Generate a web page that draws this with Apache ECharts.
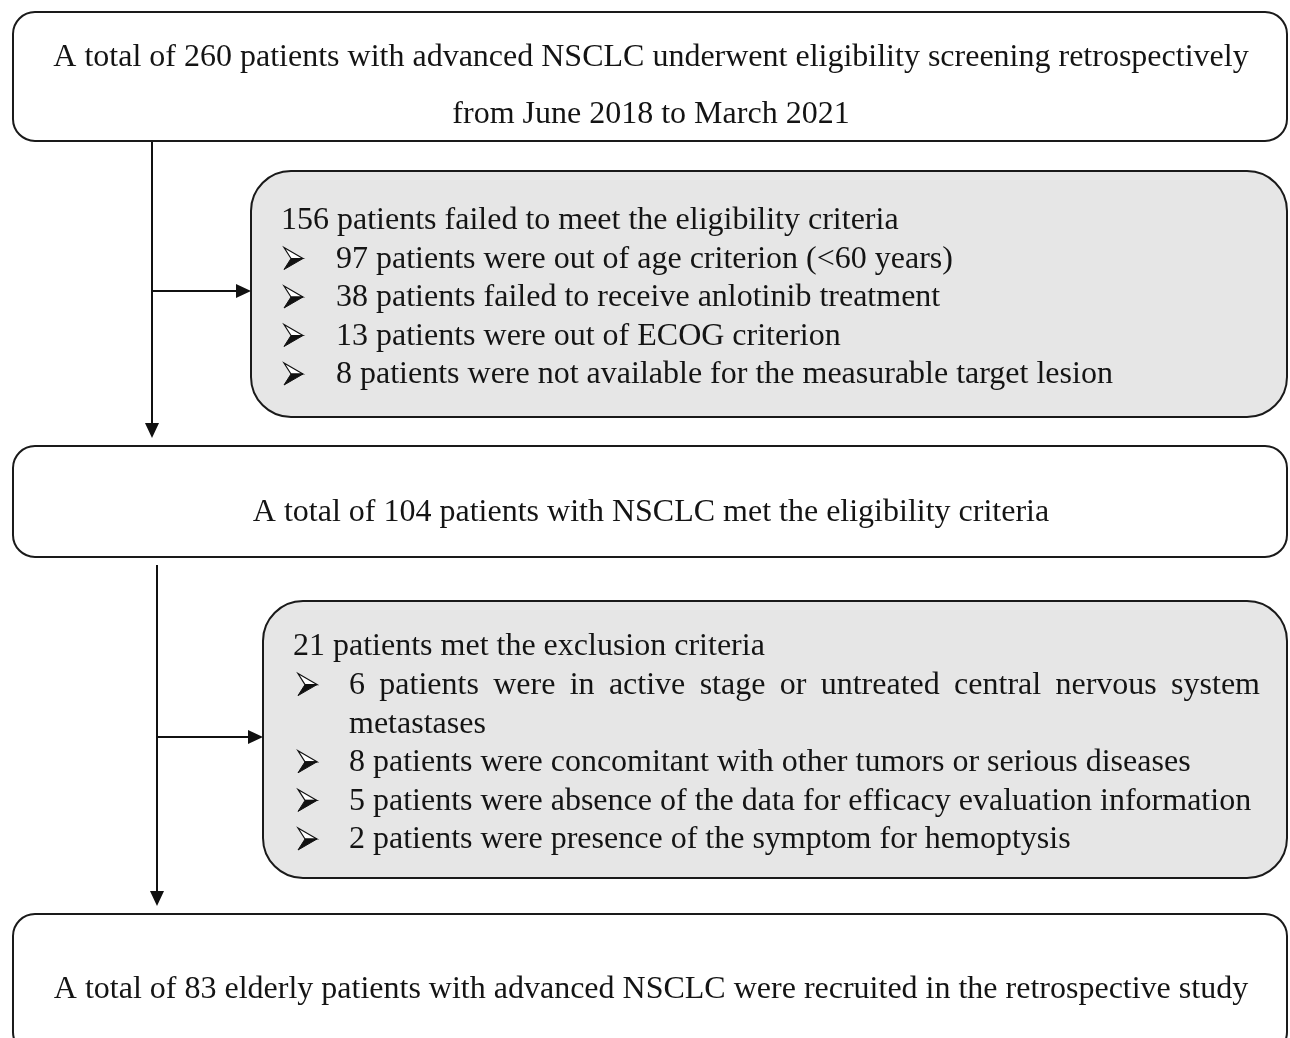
<!DOCTYPE html>
<html>
<head>
<meta charset="utf-8">
<script src="https://cdn.jsdelivr.net/npm/echarts@6/dist/echarts.min.js"></script>
<style>
html,body{margin:0;padding:0;background:#fff;}
#c{width:1290px;height:1038px;}
</style>
</head>
<body>
<div id="c"></div>
<script>
// ---- Data (texts of the flowchart) ----
var screeningLines = [
  "A total of 260 patients with advanced NSCLC underwent eligibility screening retrospectively",
  "from June 2018 to March 2021"
];
var failedHeader = "156 patients failed to meet the eligibility criteria";
var failedItems = [
  "97 patients were out of age criterion (<60 years)",
  "38 patients failed to receive anlotinib treatment",
  "13 patients were out of ECOG criterion",
  "8 patients were not available for the measurable target lesion"
];
var eligibleText = "A total of 104 patients with NSCLC met the eligibility criteria";
var excludedHeader = "21 patients met the exclusion criteria";
var excludedItems = [
  ["6 patients were in active stage or untreated central nervous system", "metastases"],
  ["8 patients were concomitant with other tumors or serious diseases"],
  ["5 patients were absence of the data for efficacy evaluation information"],
  ["2 patients were presence of the symptom for hemoptysis"]
];
var recruitedText = "A total of 83 elderly patients with advanced NSCLC were recruited in the retrospective study";

// ---- Layout ----
var FONT_FAMILY = '"Liberation Serif", "Times New Roman", serif';
var FS = 32;
var FONT = FS + 'px ' + FONT_FAMILY;
var INK = '#141414';
var LW = 2;

var measureCtx = document.createElement('canvas').getContext('2d');
measureCtx.font = FONT;
function tw(s){ return measureCtx.measureText(s).width; }

var els = [];

function box(x, y, w, h, r, fill){
  els.push({type:'rect', shape:{x:x, y:y, width:w, height:h, r:r},
    style:{fill:fill, stroke:'#1a1a1a', lineWidth:LW}, z:1});
}
function text(s, x, y, align){
  els.push({type:'text', x:x, y:y, z:5,
    style:{text:s, font:FONT, fill:INK, align:align||'left', verticalAlign:'middle'}});
}
function justified(s, x0, x1, y){
  var words = s.split(' ');
  var total = 0;
  words.forEach(function(w){ total += tw(w); });
  var gap = (x1 - x0 - total) / (words.length - 1);
  var x = x0;
  words.forEach(function(w){ text(w, x, y, 'left'); x += tw(w) + gap; });
}
function bullet(x, yMid){
  var w = 19, h = 22, n = 7;
  var tip = [x + w, yMid], tl = [x, yMid - h/2], bl = [x, yMid + h/2], notch = [x + n, yMid];
  els.push({type:'polygon', z:5, shape:{points:[tip, tl, notch]},
    style:{fill:'#fff', stroke:'#111', lineWidth:1.2}});
  els.push({type:'polygon', z:5, shape:{points:[tip, notch, bl]},
    style:{fill:'#111', stroke:'#111', lineWidth:1}});
}
function line(x1, y1, x2, y2){
  els.push({type:'line', z:3, shape:{x1:x1, y1:y1, x2:x2, y2:y2},
    style:{stroke:'#111', lineWidth:LW}});
}
function arrowHead(tx, ty, dir){
  var L = 15, hw = 7, pts;
  if (dir === 'down') pts = [[tx, ty], [tx - hw, ty - L], [tx + hw, ty - L]];
  else pts = [[tx, ty], [tx - L, ty - hw], [tx - L, ty + hw]];
  els.push({type:'polygon', z:4, shape:{points:pts}, style:{fill:'#111'}});
}

// Box 1
box(13, 12, 1274, 129, 22, '#fff');
text(screeningLines[0], 651, 58, 'center');
text(screeningLines[1], 651, 115, 'center');

// Connector 1
line(152, 142, 152, 425);
arrowHead(152, 438, 'down');
line(152, 291, 240, 291);
arrowHead(251, 291, 'right');

// Box 2 (grey)
box(251, 171, 1036, 246, 40, '#e6e6e6');
var y0 = 221, dy = 38.5;
text(failedHeader, 281, y0, 'left');
failedItems.forEach(function(s, i){
  var y = y0 + dy * (i + 1);
  bullet(284, y - 1);
  text(s, 336, y, 'left');
});

// Box 3
box(13, 446, 1274, 111, 22, '#fff');
text(eligibleText, 651, 513, 'center');

// Connector 2
line(157, 565, 157, 893);
arrowHead(157, 906, 'down');
line(157, 737, 252, 737);
arrowHead(263, 737, 'right');

// Box 4 (grey)
box(263, 601, 1024, 277, 40, '#e6e6e6');
var y1 = 647, dy2 = 38.6;
text(excludedHeader, 293, y1, 'left');
var row = 1;
excludedItems.forEach(function(item){
  var y = y1 + dy2 * row;
  bullet(298, y - 1);
  if (item.length > 1) {
    justified(item[0], 349, 1260, y);
    row++;
    text(item[1], 349, y1 + dy2 * row, 'left');
  } else {
    text(item[0], 349, y, 'left');
  }
  row++;
});

// Box 5
box(13, 914, 1274, 140, 22, '#fff');
text(recruitedText, 651, 990, 'center');

var chart = echarts.init(document.getElementById('c'), null, {renderer:'canvas'});
chart.setOption({
  backgroundColor:'#fff',
  animation:false,
  graphic:{elements:els}
});
</script>
</body>
</html>
